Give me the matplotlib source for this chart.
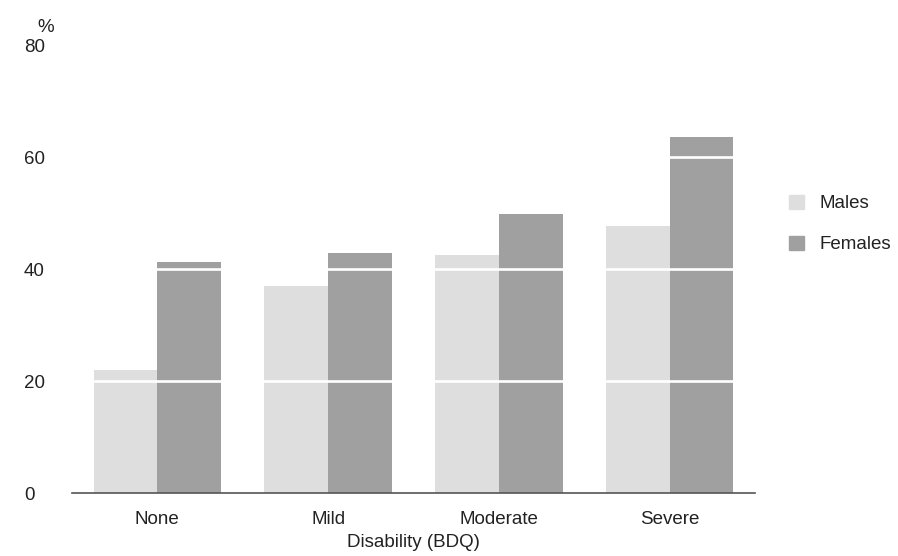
import matplotlib.pyplot as plt
import numpy as np
from matplotlib.patches import Patch

plt.rcParams['font.family'] = ['Liberation Sans', 'DejaVu Sans']

categories = ["None", "Mild", "Moderate", "Severe"]
males = [21.9, 36.9, 42.5, 47.7]
females = [41.2, 42.8, 49.8, 63.6]
yticks = [0, 20, 40, 60, 80]

c_male = "#dedede"
c_female = "#a0a0a0"
text_col = "#222222"
fs = 13.5

fig = plt.figure(figsize=(8.98, 5.56), dpi=100)
ax = fig.add_axes([72/898, 1-493/556, 683/898, 448/556])

x = np.arange(len(categories))
w = 0.374
ax.bar(x - w/2, males, w, color=c_male, zorder=1)
ax.bar(x + w/2, females, w, color=c_female, zorder=1)

# white rules across the bars
for t in yticks[1:-1]:
    ax.axhline(t, color="white", lw=1.9, zorder=2)

ax.set_xlim(-0.5, 3.5)
ax.set_ylim(0, 80)
for s in ["left", "right", "top"]:
    ax.spines[s].set_visible(False)
ax.spines["bottom"].set_color("#555555")
ax.spines["bottom"].set_linewidth(1.2)
ax.spines["bottom"].set_zorder(3)

ax.set_xticks(x)
ax.set_xticklabels(categories, fontsize=fs, color=text_col)
ax.tick_params(axis="x", length=0, pad=13)
ax.set_yticks(yticks)
ax.set_yticklabels([str(t) for t in yticks], fontsize=fs, color=text_col, ha="left")
ax.tick_params(axis="y", length=0, pad=34.5)
ax.set_xlabel("Disability (BDQ)", fontsize=fs, color=text_col, labelpad=4)

fig.text(37/898, 1-28/556, "%", fontsize=fs, color=text_col, ha="left", va="center")

handles = [Patch(color=c_male, label="Males"), Patch(color=c_female, label="Females")]
fig.legend(handles=handles, loc="center left", bbox_to_anchor=(772/898, 1-224/556),
           frameon=False, fontsize=fs, handlelength=0.8, handleheight=0.8,
           labelspacing=1.25, handletextpad=0.85, labelcolor=text_col)

fig.savefig("out.png", dpi=100)
